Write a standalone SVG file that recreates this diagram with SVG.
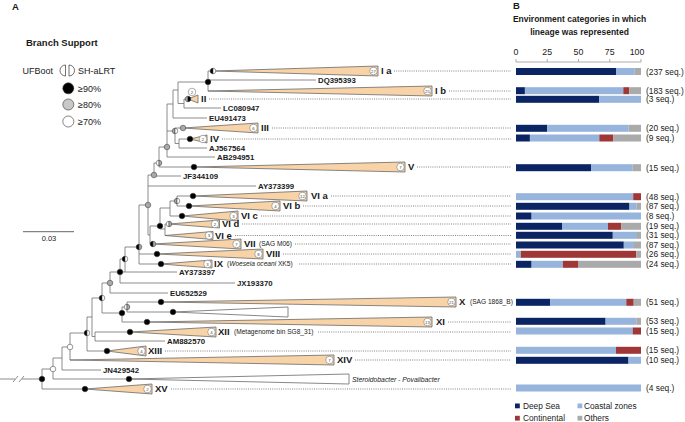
<svg xmlns="http://www.w3.org/2000/svg" width="685" height="422" viewBox="0 0 685 422">
<style>
text{font-family:"Liberation Sans",Arial,sans-serif;fill:#1a1a1a}
.br{stroke:#707070;stroke-width:0.8;fill:none}
.tri{fill:#f9d3a8;stroke:#6a6a6a;stroke-width:0.8}
.wtri{fill:#fff;stroke:#6a6a6a;stroke-width:0.8}
.bd{fill:#fff;stroke:#777;stroke-width:0.6}
.bn{font-size:4.3px;text-anchor:middle;fill:#444}
.cl{font-size:9.5px;font-weight:bold}
.tx{font-size:7.8px;font-weight:bold}
.sm{font-size:6.6px}
.dt{stroke:#666;stroke-width:0.8;stroke-dasharray:1 1.2;fill:none}
.nd{stroke:#333;stroke-width:0.5}
.k{fill:#000}.g{fill:#a9a9a9}.w{fill:#fff}
.ds{fill:#0b2463}.cz{fill:#96b4dc}.ct{fill:#a03737}.ot{fill:#aaa}
.sq{font-size:8.4px}
.lg{font-size:9px}
.ax{stroke:#999;stroke-width:0.8;fill:none}
</style>
<defs>
<circle id="C" r="2.8"/>
<path id="L" d="M0,-2.8A2.8,2.8 0 0 0 0,2.8Z"/>
<path id="R" d="M0,-2.8A2.8,2.8 0 0 1 0,2.8Z"/>
</defs>
<rect width="685" height="422" fill="#fff"/>

<!-- Panel A legend -->
<g id="panel-A-legend">
<text x="12" y="9.5" style="font-size:9.5px;font-weight:bold">A</text>
<text x="26" y="46" style="font-size:9.5px;font-weight:bold">Branch Support</text>
<text x="22.5" y="73.5" class="lg">UFBoot</text>
<path d="M65.5,65A5.5,5.5 0 0 0 65.5,76Z" fill="#fff" stroke="#333" stroke-width="0.7"/>
<path d="M69,65A5.5,5.5 0 0 1 69,76Z" fill="#fff" stroke="#333" stroke-width="0.7"/>
<text x="78" y="73.5" class="lg">SH-aLRT</text>
<circle cx="68.3" cy="88.3" r="5.5" fill="#000" stroke="#333" stroke-width="0.6"/>
<circle cx="68.3" cy="104.5" r="5.5" fill="#c8c8c8" stroke="#333" stroke-width="0.6"/>
<circle cx="68.3" cy="121.5" r="5.5" fill="#fff" stroke="#333" stroke-width="0.6"/>
<text x="78" y="91.5" class="lg">≥90%</text>
<text x="78" y="107.7" class="lg">≥80%</text>
<text x="78" y="124.7" class="lg">≥70%</text>
</g>
<g id="scale-bar">
<path d="M23,231.7H74" stroke="#555" stroke-width="0.9"/>
<text x="49" y="240.5" style="font-size:7.5px" text-anchor="middle">0.03</text>
</g>

<!-- Connectors: tree branches and leader lines -->
<g id="connectors">
<path class="br" d="M0,379H15M22,379H42M13,382L18,376M19,382L24,376
M42,369V389M42,369H53M42,389H85
M53,358V379M53,358H62M53,379H129
M62,347V370M62,347H70M62,370H101
M70,333V360M70,333H87
M87,317V351M87,317H92M87,351H107
M92,298V336.5M92,298H102M92,336.5H95
M95,332V341M95,332H130M95,341H165
M102,283V313M102,283H110M102,313H122
M122,307V322M122,307H127M122,322H147
M127,302V312M127,302H161M127,312H173
M110,272V293M110,272H120M110,293H168
M120,259V283M120,259H125M120,283H235M120,272H177
M125,247V272M125,247H139
M139,205V264M139,205H148M139,254H157M139,264H161
M148,175V235M148,175H154M148,186H256M148,235H150
M150,226V244M150,226H160M150,244H153
M160,208V229M160,208H170M160,229H165
M170,201V216M170,201H177M170,216H182
M177,196V206M177,196H193M177,206H189
M165,224V235.5M165,224H169
M154,163V176M154,163H159M154,176H181
M159,147V167M159,147H167M159,167H194
M167,104V157M167,104H173M167,131H175M167,157H215
M175,128V143.5M175,128H183M175,143.5H179
M179,139V148M179,139H190M179,148H207
M173,90V118M173,90H178M173,118H207
M178,82V103.5M178,82H208M178,103.5H184
M184,99V108M184,99H188M184,108H221
M208,71V91M208,71H213M208,80H316"/>
<path class="dt" d="M394,71H511M449,91H511M209,99H511M272,128H511M222,139H511M417,167H511
M331,196H511M303,206H511M261,216H511M242,224H511M235,235.5H511M295,244H511M283,254H511M299,264H511
M448,322H511M318,332H511M165,351H511M355,360H511M171,389H511"/>
</g>

<!-- Collapsed clades -->
<g id="clade-Ia"><polygon class="tri" points="213,71 378,66 378,76"/><circle class="bd" cx="373.5" cy="71" r="3.8"/><text class="bn" x="373.5" y="72.5">27</text><text class="cl" x="381" y="74.4">I a</text></g>
<g id="clade-Ib"><polygon class="tri" points="208,91 432,86 432,96"/><circle class="bd" cx="427.5" cy="91" r="3.8"/><text class="bn" x="427.5" y="92.5">25</text><text class="cl" x="435" y="94.4">I b</text></g>
<g id="clade-II"><polygon class="tri" points="188,99 198,95 198,103"/><circle class="bd" cx="192" cy="92" r="3.8"/><text class="bn" x="192" y="93.5">2</text><text class="cl" x="201" y="102.4">II</text></g>
<g id="clade-III"><polygon class="tri" points="183,128 258,123 258,133"/><circle class="bd" cx="253.5" cy="128" r="3.8"/><text class="bn" x="253.5" y="129.5">6</text><text class="cl" x="261" y="131.4">III</text></g>
<g id="clade-IV"><polygon class="tri" points="190,139 207,135 207,143"/><circle class="bd" cx="203" cy="139" r="3.8"/><text class="bn" x="203" y="140.5">2</text><text class="cl" x="210" y="142.4">IV</text></g>
<g id="clade-V"><polygon class="tri" points="194,167 405,162 405,172"/><circle class="bd" cx="400.5" cy="167" r="3.8"/><text class="bn" x="400.5" y="168.5">7</text><text class="cl" x="408" y="170.4">V</text></g>
<g id="clade-VIa"><polygon class="tri" points="193,196 307,191 307,201"/><circle class="bd" cx="302.5" cy="196" r="3.8"/><text class="bn" x="302.5" y="197.5">12</text><text class="cl" x="311" y="199.4">VI a</text></g>
<g id="clade-VIb"><polygon class="tri" points="189,206 280,201 280,211"/><circle class="bd" cx="275.5" cy="206" r="3.8"/><text class="bn" x="275.5" y="207.5">4</text><text class="cl" x="283" y="209.4">VI b</text></g>
<g id="clade-VIc"><polygon class="tri" points="182,216 238,211 238,221"/><circle class="bd" cx="233.5" cy="216" r="3.8"/><text class="bn" x="233.5" y="217.5">3</text><text class="cl" x="241" y="219.4">VI c</text></g>
<g id="clade-VId"><polygon class="tri" points="169,224 219.5,220 219.5,228"/><circle class="bd" cx="215" cy="224" r="3.8"/><text class="bn" x="215" y="225.5">2</text><text class="cl" x="222" y="227.4">VI d</text></g>
<g id="clade-VIe"><polygon class="tri" points="165,235.5 213,231.5 213,239.5"/><circle class="bd" cx="209" cy="235.5" r="3.8"/><text class="bn" x="209" y="237">3</text><text class="cl" x="215" y="238.9">VI e</text></g>
<g id="clade-VII"><polygon class="tri" points="153,244 241,239 241,249"/><circle class="bd" cx="236.5" cy="244" r="3.8"/><text class="bn" x="236.5" y="245.5">7</text><text class="cl" x="244" y="247.4">VII</text><text class="sm" x="259" y="246.4">(SAG M06)</text></g>
<g id="clade-VIII"><polygon class="tri" points="157,254 263,249 263,259"/><circle class="bd" cx="258.5" cy="254" r="3.8"/><text class="bn" x="258.5" y="255.5">8</text><text class="cl" x="266" y="257.4">VIII</text></g>
<g id="clade-IX"><polygon class="tri" points="161,264 212,260 212,268"/><circle class="bd" cx="207.5" cy="264" r="3.8"/><text class="bn" x="207.5" y="265.5">3</text><text class="cl" x="214" y="267.4">IX</text><text class="sm" x="227" y="266.4">(<tspan font-style="italic">Woeseia oceani</tspan> XK5)</text></g>
<g id="clade-X"><polygon class="tri" points="161,302 456,297 456,307"/><circle class="bd" cx="451.5" cy="302" r="3.8"/><text class="bn" x="451.5" y="303.5">21</text><text class="cl" x="459" y="305.4">X</text><text class="sm" x="470" y="304.4">(SAG 1868_B)</text></g>
<g id="clade-unnamed"><polygon class="wtri" points="173,312 288,307 288,317"/></g>
<g id="clade-XI"><polygon class="tri" points="147,322 432,317 432,327"/><circle class="bd" cx="427.5" cy="322" r="3.8"/><text class="bn" x="427.5" y="323.5">13</text><text class="cl" x="436" y="325.4">XI</text></g>
<g id="clade-XII"><polygon class="tri" points="130,332 216,327 216,337"/><circle class="bd" cx="211.5" cy="332" r="3.8"/><text class="bn" x="211.5" y="333.5">4</text><text class="cl" x="218" y="335.4">XII</text><text class="sm" x="234" y="334.4">(Metagenome bin SG8_31)</text></g>
<g id="clade-XIII"><polygon class="tri" points="107,351 146,346 146,356"/><circle class="bd" cx="141.5" cy="351" r="3.8"/><text class="bn" x="141.5" y="352.5">4</text><text class="cl" x="148" y="354.4">XIII</text></g>
<g id="clade-XIV"><polygon class="tri" points="70,360 334,355 334,365"/><circle class="bd" cx="329.5" cy="360" r="3.8"/><text class="bn" x="329.5" y="361.5">7</text><text class="cl" x="337" y="363.4">XIV</text></g>
<g id="clade-outgroup"><polygon class="wtri" points="129,379 349,374 349,384"/><text class="sm" x="352" y="381.5" style="font-size:6.8px;font-style:italic">Steroidobacter - Povalibacter</text></g>
<g id="clade-XV"><polygon class="tri" points="85,389 152,384 152,394"/><circle class="bd" cx="147.5" cy="389" r="3.8"/><text class="bn" x="147.5" y="390.5">2</text><text class="cl" x="155" y="392.4">XV</text></g>

<!-- Single taxa -->
<g id="taxon-DQ395393"><text class="tx" x="318" y="82.8">DQ395393</text></g>
<g id="taxon-LC080947"><text class="tx" x="223" y="110.8">LC080947</text></g>
<g id="taxon-EU491473"><text class="tx" x="209" y="120.8">EU491473</text></g>
<g id="taxon-AJ567564"><text class="tx" x="209" y="150.8">AJ567564</text></g>
<g id="taxon-AB294951"><text class="tx" x="217" y="159.8">AB294951</text></g>
<g id="taxon-JF344109"><text class="tx" x="183" y="178.8">JF344109</text></g>
<g id="taxon-AY373399"><text class="tx" x="258" y="188.8">AY373399</text></g>
<g id="taxon-AY373397"><text class="tx" x="179" y="274.8">AY373397</text></g>
<g id="taxon-JX193370"><text class="tx" x="237" y="285.8">JX193370</text></g>
<g id="taxon-EU652529"><text class="tx" x="170" y="295.8">EU652529</text></g>
<g id="taxon-AM882570"><text class="tx" x="167" y="343.8">AM882570</text></g>
<g id="taxon-JN429542"><text class="tx" x="103" y="372.8">JN429542</text></g>

<!-- Support markers -->
<g id="support-nodes">
<use href="#C" x="208" y="82" class="nd k"/>
<use href="#L" x="213" y="71" class="nd k"/><use href="#R" x="213" y="71" class="nd w"/>
<use href="#L" x="188" y="99" class="nd g"/><use href="#R" x="188" y="99" class="nd k"/>
<use href="#C" x="183" y="128" class="nd g"/>
<use href="#L" x="175" y="131" class="nd g"/><use href="#R" x="175" y="131" class="nd w"/>
<use href="#C" x="190" y="139" class="nd k"/>
<use href="#C" x="167" y="147" class="nd g"/>
<use href="#L" x="159" y="163" class="nd w"/><use href="#R" x="159" y="163" class="nd g"/>
<use href="#C" x="194" y="167" class="nd k"/>
<use href="#C" x="154" y="175" class="nd g"/>
<use href="#C" x="148" y="205" class="nd g"/>
<use href="#L" x="177" y="201" class="nd g"/><use href="#R" x="177" y="201" class="nd w"/>
<use href="#C" x="193" y="196" class="nd k"/>
<use href="#C" x="189" y="206" class="nd k"/>
<use href="#C" x="182" y="216" class="nd k"/>
<use href="#C" x="160" y="226" class="nd k"/>
<use href="#L" x="169" y="224" class="nd w"/><use href="#R" x="169" y="224" class="nd g"/>
<use href="#L" x="153" y="244" class="nd k"/><use href="#R" x="153" y="244" class="nd g"/>
<use href="#C" x="157" y="254" class="nd k"/>
<use href="#C" x="161" y="264" class="nd k"/>
<use href="#L" x="139" y="247" class="nd k"/><use href="#R" x="139" y="247" class="nd g"/>
<use href="#L" x="125" y="259" class="nd k"/><use href="#R" x="125" y="259" class="nd w"/>
<use href="#C" x="120" y="272" class="nd k"/>
<use href="#C" x="110" y="283" class="nd g"/>
<use href="#L" x="102" y="298" class="nd k"/><use href="#R" x="102" y="298" class="nd w"/>
<use href="#L" x="127" y="307" class="nd w"/><use href="#R" x="127" y="307" class="nd g"/>
<use href="#C" x="161" y="302" class="nd k"/>
<use href="#C" x="173" y="312" class="nd k"/>
<use href="#C" x="122" y="313" class="nd k"/>
<use href="#C" x="147" y="322" class="nd k"/>
<use href="#C" x="130" y="332" class="nd k"/>
<use href="#L" x="87" y="333" class="nd k"/><use href="#R" x="87" y="333" class="nd w"/>
<use href="#C" x="107" y="351" class="nd k"/>
<use href="#C" x="70" y="347" class="nd w"/>
<use href="#C" x="53" y="369" class="nd w"/>
<use href="#C" x="42" y="379" class="nd k"/>
<use href="#C" x="129" y="379" class="nd k"/>
<use href="#C" x="85" y="389" class="nd k"/>
</g>

<!-- Panel B -->
<g id="panel-B-header">
<text x="513" y="9" style="font-size:9.5px;font-weight:bold">B</text>
<text x="579.5" y="22" text-anchor="middle" style="font-size:8.5px;font-weight:bold">Environment categories in which</text>
<text x="579.5" y="34.5" text-anchor="middle" style="font-size:8.5px;font-weight:bold">lineage was represented</text>
<path class="ax" d="M516,62H641M516,59V62M547.25,59V62M578.5,59V62M609.75,59V62M641,59V62"/>
<g style="font-size:8.8px" text-anchor="middle">
<text x="516" y="55">0</text><text x="547.25" y="55">25</text><text x="578.5" y="55">50</text><text x="609.75" y="55">75</text><text x="637" y="55">100</text>
</g>
</g>

<g id="bar-Ia"><rect class="ds" x="516" y="68" width="100" height="7"/><rect class="cz" x="616" y="68" width="18.75" height="7"/><rect class="ot" x="634.75" y="68" width="6.25" height="7"/><text class="sq" x="646" y="74.5">(237 seq.)</text></g>
<g id="bar-Ib"><rect class="ds" x="516" y="87.2" width="8.9" height="7"/><rect class="cz" x="524.9" y="87.2" width="98.4" height="7"/><rect class="ct" x="623.3" y="87.2" width="6" height="7"/><rect class="ot" x="629.3" y="87.2" width="11.7" height="7"/><text class="sq" x="646" y="93.7">(183 seq.)</text></g>
<g id="bar-II"><rect class="ds" x="516" y="95.8" width="83.3" height="7"/><rect class="cz" x="599.3" y="95.8" width="41.7" height="7"/><text class="sq" x="646" y="102.3">(3 seq.)</text></g>
<g id="bar-III"><rect class="ds" x="516" y="124.8" width="31.25" height="7"/><rect class="cz" x="547.25" y="124.8" width="81.25" height="7"/><rect class="ot" x="628.5" y="124.8" width="12.5" height="7"/><text class="sq" x="646" y="131.3">(20 seq.)</text></g>
<g id="bar-IV"><rect class="ds" x="516" y="134.5" width="13.9" height="7"/><rect class="cz" x="529.9" y="134.5" width="69.4" height="7"/><rect class="ct" x="599.3" y="134.5" width="13.9" height="7"/><rect class="ot" x="613.2" y="134.5" width="27.8" height="7"/><text class="sq" x="646" y="141">(9 seq.)</text></g>
<g id="bar-V"><rect class="ds" x="516" y="164.2" width="75" height="7"/><rect class="cz" x="591" y="164.2" width="41.7" height="7"/><rect class="ot" x="632.7" y="164.2" width="8.3" height="7"/><text class="sq" x="646" y="170.7">(15 seq.)</text></g>
<g id="bar-VIa"><rect class="cz" x="516" y="193.2" width="117.2" height="7"/><rect class="ct" x="633.2" y="193.2" width="7.8" height="7"/><text class="sq" x="646" y="199.7">(48 seq.)</text></g>
<g id="bar-VIb"><rect class="ds" x="516" y="202.8" width="113.5" height="7"/><rect class="cz" x="629.5" y="202.8" width="7.2" height="7"/><rect class="ot" x="636.7" y="202.8" width="4.3" height="7"/><text class="sq" x="646" y="209.3">(87 seq.)</text></g>
<g id="bar-VIc"><rect class="ds" x="516" y="212.5" width="15.6" height="7"/><rect class="cz" x="531.6" y="212.5" width="109.4" height="7"/><text class="sq" x="646" y="219">(8 seq.)</text></g>
<g id="bar-VId"><rect class="ds" x="516" y="222.8" width="46" height="7"/><rect class="cz" x="562" y="222.8" width="46" height="7"/><rect class="ct" x="608" y="222.8" width="13.2" height="7"/><rect class="ot" x="621.2" y="222.8" width="19.8" height="7"/><text class="sq" x="646" y="229.3">(19 seq.)</text></g>
<g id="bar-VIe"><rect class="ds" x="516" y="231.8" width="96.8" height="7"/><rect class="cz" x="612.8" y="231.8" width="24.2" height="7"/><rect class="ot" x="637" y="231.8" width="4" height="7"/><text class="sq" x="646" y="238.3">(31 seq.)</text></g>
<g id="bar-VII"><rect class="ds" x="516" y="241.5" width="107.8" height="7"/><rect class="cz" x="623.8" y="241.5" width="10.2" height="7"/><rect class="ot" x="634" y="241.5" width="7" height="7"/><text class="sq" x="646" y="248">(87 seq.)</text></g>
<g id="bar-VIII"><rect class="cz" x="516" y="250.8" width="4.8" height="7"/><rect class="ct" x="520.8" y="250.8" width="115.4" height="7"/><rect class="ot" x="636.2" y="250.8" width="4.8" height="7"/><text class="sq" x="646" y="257.3">(26 seq.)</text></g>
<g id="bar-IX"><rect class="ds" x="516" y="260.8" width="15.6" height="7"/><rect class="cz" x="531.6" y="260.8" width="31.3" height="7"/><rect class="ct" x="562.9" y="260.8" width="15.6" height="7"/><rect class="ot" x="578.5" y="260.8" width="62.5" height="7"/><text class="sq" x="646" y="267.3">(24 seq.)</text></g>
<g id="bar-X"><rect class="ds" x="516" y="298.8" width="34.3" height="7"/><rect class="cz" x="550.3" y="298.8" width="76" height="7"/><rect class="ct" x="626.3" y="298.8" width="7.4" height="7"/><rect class="ot" x="633.7" y="298.8" width="7.3" height="7"/><text class="sq" x="646" y="305.3">(51 seq.)</text></g>
<g id="bar-XI"><rect class="ds" x="516" y="317.8" width="89.6" height="7"/><rect class="cz" x="605.6" y="317.8" width="30.7" height="7"/><rect class="ot" x="636.3" y="317.8" width="4.7" height="7"/><text class="sq" x="646" y="324.3">(53 seq.)</text></g>
<g id="bar-XII"><rect class="cz" x="516" y="327.5" width="116.7" height="7"/><rect class="ct" x="632.7" y="327.5" width="8.3" height="7"/><text class="sq" x="646" y="334">(15 seq.)</text></g>
<g id="bar-XIII"><rect class="cz" x="516" y="346.8" width="100" height="7"/><rect class="ct" x="616" y="346.8" width="25" height="7"/><text class="sq" x="646" y="353.3">(15 seq.)</text></g>
<g id="bar-XIV"><rect class="ds" x="516" y="356.8" width="112.5" height="7"/><rect class="cz" x="628.5" y="356.8" width="12.5" height="7"/><text class="sq" x="646" y="363.3">(10 seq.)</text></g>
<g id="bar-XV"><rect class="cz" x="516" y="384.5" width="125" height="7"/><text class="sq" x="646" y="391">(4 seq.)</text></g>

<g id="panel-B-legend">
<rect class="ds" x="515" y="403.5" width="4.8" height="4.8"/><text x="523" y="409" style="font-size:8.3px">Deep Sea</text>
<rect class="cz" x="577.5" y="403.5" width="4.8" height="4.8"/><text x="584" y="409" style="font-size:8.3px">Coastal zones</text>
<rect class="ct" x="515" y="415.8" width="4.8" height="4.8"/><text x="523" y="421.3" style="font-size:8.3px">Continental</text>
<rect class="ot" x="577.5" y="415.8" width="4.8" height="4.8"/><text x="584" y="421.3" style="font-size:8.3px">Others</text>
</g>
</svg>
